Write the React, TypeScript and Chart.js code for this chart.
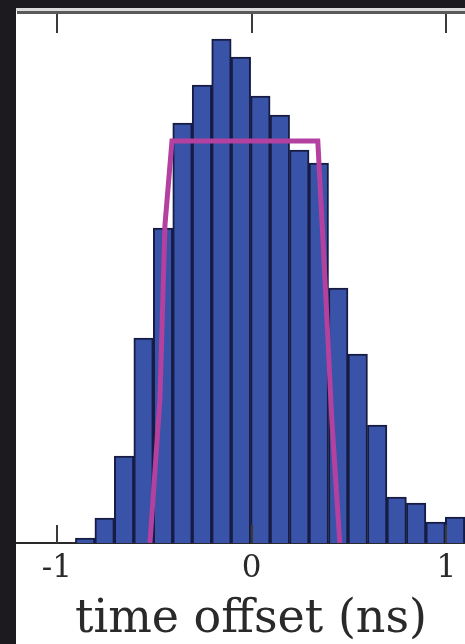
import React, { useEffect, useRef } from "react";
import { Chart, registerables } from "chart.js";

Chart.register(...registerables);

// Histogram bin centres (ns), bin width 0.1 ns
const binCenters = [
  -0.855, -0.755, -0.655, -0.555, -0.455, -0.355, -0.255, -0.155, -0.055,
  0.045, 0.145, 0.245, 0.345, 0.445, 0.545, 0.645, 0.745, 0.845, 0.945,
  1.045, 1.145,
];
// Counts (arbitrary units)
const binCounts = [
  5, 25, 87, 205, 315, 420, 458, 504, 486, 447, 428, 393, 380, 255, 189,
  118, 46, 40, 21, 26, 15,
];

// Magenta model curve (trapezoid-like)
const modelX = [-0.522, -0.471, -0.445, -0.409, 0.34, 0.361, 0.382, 0.412, 0.453];
const modelY = [0, 143, 318, 402, 402, 323, 243, 123, 0];

const tickValues = [-1, 0, 1];
const xTitle = "time offset (ns)";

const X_MIN = -1.205;
const X_MAX = 1.096;
const Y_MAX = 529;

const framePlugin = {
  id: "frame",
  afterLayout(chart: any) {
    // The original figure is cropped on the right: centre the axis title
    // as if the axis continued ~20px beyond the canvas.
    const xs = chart.scales.x;
    xs.right = xs.right + 20;
  },
  beforeDraw(chart: any) {
    const { ctx, width, height } = chart;
    ctx.save();
    ctx.fillStyle = "#ffffff";
    ctx.fillRect(0, 0, width, height);
    ctx.fillStyle = "#1d1a1f";
    ctx.fillRect(0, 0, 16, height);
    ctx.fillRect(0, 0, width, 8);
    ctx.fillStyle = "#dcdcdc";
    ctx.fillRect(16, 8, width - 16, 3);
    ctx.restore();
  },
  afterDatasetsDraw(chart: any) {
    const { ctx, chartArea } = chart;
    const xs = chart.scales.x;
    ctx.save();
    ctx.strokeStyle = "#5a5a5a";
    ctx.lineWidth = 3;
    ctx.beginPath();
    ctx.moveTo(chartArea.left, chartArea.top - 1.5);
    ctx.lineTo(chartArea.right, chartArea.top - 1.5);
    ctx.stroke();
    ctx.strokeStyle = "#3a3a3a";
    ctx.lineWidth = 2;
    for (const t of xs.ticks) {
      const px = Math.round(xs.getPixelForValue(t.value));
      ctx.beginPath();
      ctx.moveTo(px, chartArea.top);
      ctx.lineTo(px, chartArea.top + 19);
      ctx.moveTo(px, chartArea.bottom);
      ctx.lineTo(px, chartArea.bottom - 18);
      ctx.stroke();
    }
    ctx.restore();
  },
};

export default function App() {
  const ref = useRef<HTMLCanvasElement | null>(null);
  useEffect(() => {
    if (!ref.current) return;
    const chart = new Chart(ref.current, {
      type: "bar",
      data: {
        datasets: [
          {
            type: "line",
            data: modelX.map((x, i) => ({ x, y: modelY[i] })),
            borderColor: "#b4409f",
            borderWidth: 5,
            pointRadius: 0,
            tension: 0,
            borderJoinStyle: "miter",
            order: 0,
          } as any,
          {
            type: "bar",
            data: binCenters.map((x, i) => ({ x, y: binCounts[i] })),
            backgroundColor: "#3853a8",
            borderColor: "#171c44",
            borderWidth: 2,
            barPercentage: 1,
            categoryPercentage: 1,
            order: 1,
          } as any,
        ],
      },
      options: {
        responsive: false,
        animation: false,
        devicePixelRatio: 1,
        layout: { padding: { left: 17, top: 14, right: 0, bottom: 0 } },
        plugins: { legend: { display: false }, tooltip: { enabled: false } },
        scales: {
          x: {
            type: "linear",
            offset: false,
            min: X_MIN,
            max: X_MAX,
            afterBuildTicks: (scale: any) => {
              scale.ticks = tickValues.map((v) => ({ value: v }));
            },
            afterFit: (scale: any) => {
              scale.height = 101;
            },
            grid: { display: false, drawTicks: false, offset: false },
            border: { display: true, color: "#2a2a2a", width: 2 },
            ticks: {
              padding: 7,
              maxRotation: 0,
              color: "#2a2a2a",
              font: { family: "'DejaVu Serif', serif", size: 31 },
              callback: (v: any) => String(v),
            },
            title: {
              display: true,
              text: xTitle,
              color: "#2a2a2a",
              padding: { top: 0, bottom: -4 },
              font: { family: "'DejaVu Serif', serif", size: 46 },
            },
          },
          y: {
            display: false,
            min: 0,
            max: Y_MAX,
          },
        },
      },
      plugins: [framePlugin],
    });
    return () => chart.destroy();
  }, []);
  return (
    <div style={{ position: "fixed", left: 0, top: 0, width: 465, height: 644 }}>
      <canvas ref={ref} width={465} height={644} style={{ display: "block" }} />
    </div>
  );
}
